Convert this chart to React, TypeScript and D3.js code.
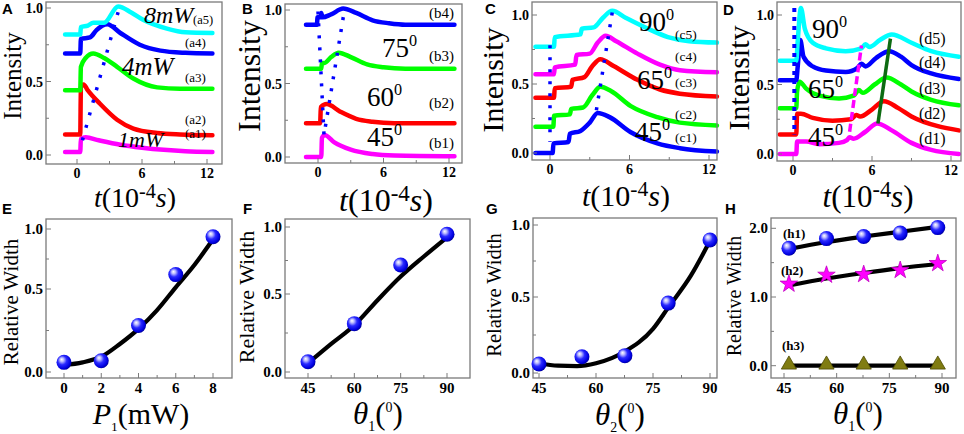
import * as d3 from "d3";
import type { ReactNode } from "react";

type Pt = [number, number];

const SERIF = "'Liberation Serif', 'Times New Roman', Tinos, 'DejaVu Serif', serif";
const SANS = "'Liberation Sans', Arial, sans-serif";
const FRAME = "#7a7a7a";

const CYAN = "#00ffff";
const BLUE = "#0000ff";
const GREEN = "#00ff00";
const RED = "#ff0000";
const MAGENTA = "#ff00ff";

// ---------- top row: intensity vs time ----------
const timeTicks = [0, 6, 12];
const timeMinor = [3, 9];
const intensityTicks = [0, 0.5, 1];
const intensityMinor = [0.25, 0.75];

// A: pump power 1..8 mW
const traceA1: Pt[] = [[-1.1, 0.02], [0.3, 0.02], [0.36, 0.11], [0.8, 0.12], [2, 0.1], [4, 0.07], [6, 0.05], [8, 0.035], [10, 0.025], [12.5, 0.02]];
const traceA2: Pt[] = [[-1.1, 0.14], [0.3, 0.14], [0.36, 0.46], [0.6, 0.48], [1, 0.44], [2.1, 0.35], [3.7, 0.24], [5.2, 0.18], [7.4, 0.15], [9.5, 0.14], [12.5, 0.135]];
const traceA3: Pt[] = [[-1.1, 0.44], [0.3, 0.44], [0.36, 0.6], [0.8, 0.66], [1.5, 0.69], [2.5, 0.66], [3.7, 0.6], [5.2, 0.52], [7.4, 0.46], [9.5, 0.45], [12.5, 0.45]];
const traceA4: Pt[] = [[-1.1, 0.69], [0.3, 0.69], [0.36, 0.79], [1.2, 0.8], [1.8, 0.85], [2.8, 0.89], [4, 0.83], [5.8, 0.75], [7.7, 0.71], [10, 0.695], [12.5, 0.69]];
const traceA5: Pt[] = [[-1.1, 0.82], [0.3, 0.82], [0.36, 0.87], [1, 0.88], [1.5, 0.9], [2.5, 0.9], [3.8, 1.01], [5, 0.97], [6.1, 0.92], [8.3, 0.86], [10, 0.835], [12.5, 0.83]];
const guideA: Pt[] = [[0.5, 0.1], [3.9, 1.0]];

// B: angle theta1
const traceB1: Pt[] = [[-1.1, 0], [0.3, 0], [0.36, 0.13], [0.6, 0.15], [1.5, 0.1], [3, 0.05], [5, 0.02], [7, 0.01], [12.5, 0.005]];
const traceB2: Pt[] = [[-1.1, 0.23], [0.2, 0.23], [0.26, 0.34], [0.8, 0.36], [2, 0.31], [3.5, 0.26], [5, 0.24], [7, 0.23], [12.5, 0.23]];
const traceB3: Pt[] = [[-1.1, 0.6], [0.3, 0.6], [0.36, 0.64], [0.6, 0.64], [1.2, 0.68], [1.9, 0.71], [3, 0.68], [4.5, 0.63], [6, 0.61], [8, 0.6], [12.5, 0.6]];
const traceB4: Pt[] = [[-1.1, 0.9], [-0.1, 0.9], [-0.04, 0.95], [0.25, 0.95], [0.3, 0.98], [0.4, 0.95], [1.2, 0.97], [2.3, 1.01], [3.5, 0.98], [5, 0.93], [6.5, 0.91], [8, 0.9], [12.5, 0.9]];
const guideB: Pt[] = [[0, 0.99], [0.55, 0.15], [2.4, 0.99]];

// C: angle theta2
const traceC1: Pt[] = [[-1.1, 0], [0.2, 0], [0.26, 0.07], [1.4, 0.08], [1.5, 0.14], [2.3, 0.16], [3, 0.22], [3.6, 0.29], [4.5, 0.26], [6.1, 0.15], [8.1, 0.07], [9.8, 0.035], [12.6, 0.01]];
const traceC2: Pt[] = [[-1.1, 0.19], [0.25, 0.19], [0.31, 0.27], [1.5, 0.28], [1.6, 0.32], [2.5, 0.33], [3.2, 0.42], [3.8, 0.48], [4.6, 0.45], [6.1, 0.34], [8.1, 0.26], [9.8, 0.22], [12.6, 0.2]];
const traceC3: Pt[] = [[-1.1, 0.4], [0.3, 0.4], [0.36, 0.47], [1.6, 0.48], [1.7, 0.53], [2.6, 0.55], [3.2, 0.63], [3.8, 0.68], [4.8, 0.63], [6.6, 0.53], [8.3, 0.46], [9.8, 0.43], [12.6, 0.41]];
const traceC4: Pt[] = [[-1.1, 0.57], [0.3, 0.57], [0.36, 0.62], [1.9, 0.64], [2, 0.71], [3, 0.72], [3.6, 0.8], [4.2, 0.85], [5, 0.81], [6.6, 0.72], [8.3, 0.64], [9.8, 0.6], [12.6, 0.585]];
const traceC5: Pt[] = [[-1.1, 0.77], [0.3, 0.77], [0.36, 0.84], [2.3, 0.86], [2.4, 0.9], [3.3, 0.91], [4, 0.98], [4.7, 1.03], [5.7, 0.98], [7.4, 0.9], [8.9, 0.84], [10.5, 0.81], [12.6, 0.8]];
const guideC1: Pt[] = [[0, 0.78], [0, 0.08]];
const guideC2: Pt[] = [[3.5, 0.31], [4.7, 1.02]];

// D: angle with two-stage response
const traceD1: Pt[] = [[-1, 0], [0.25, 0], [0.31, 0.09], [1, 0.09], [2, 0.07], [3.5, 0.08], [4.1, 0.1], [4.3, 0.12], [4.6, 0.11], [5.5, 0.16], [6.4, 0.22], [7.5, 0.17], [9, 0.08], [10.5, 0.03], [12.6, 0]];
const traceD2: Pt[] = [[-1, 0.14], [0.25, 0.14], [0.31, 0.29], [0.6, 0.29], [1.5, 0.26], [3, 0.24], [4.4, 0.25], [4.8, 0.28], [5.1, 0.27], [6, 0.32], [6.9, 0.38], [8, 0.33], [9, 0.27], [11, 0.2], [12.6, 0.17]];
const traceD3: Pt[] = [[-1, 0.33], [0.25, 0.33], [0.31, 0.45], [0.5, 0.52], [1, 0.47], [2, 0.42], [3.5, 0.4], [4.6, 0.42], [5, 0.46], [5.3, 0.44], [6.2, 0.5], [7.1, 0.55], [8.2, 0.5], [9, 0.45], [10.5, 0.39], [12.6, 0.35]];
const traceD4: Pt[] = [[-1, 0.53], [0.25, 0.53], [0.35, 0.62], [0.55, 0.82], [0.8, 0.7], [1.5, 0.63], [2.5, 0.6], [4, 0.59], [4.9, 0.62], [5.2, 0.65], [5.5, 0.63], [6.3, 0.69], [7.3, 0.74], [8.2, 0.7], [9, 0.64], [10.5, 0.58], [12.6, 0.54]];
const traceD5: Pt[] = [[-1, 0.67], [0.25, 0.67], [0.35, 0.8], [0.6, 1.05], [0.9, 0.9], [1.5, 0.8], [2.5, 0.76], [4, 0.74], [5.2, 0.76], [5.5, 0.79], [5.8, 0.77], [6.6, 0.82], [7.5, 0.86], [9, 0.8], [10.5, 0.74], [12.6, 0.7]];
const guideD1: Pt[] = [[0.1, 1.05], [0.1, 0.14]];
const guideD2: Pt[] = [[4.3, 0.16], [5.2, 0.78]];
const guideD3: Pt[] = [[6.45, 0.22], [7.4, 0.83]];

// ---------- bottom row: relative width ----------
const powerLevels = [0, 2, 4, 6, 8];
const widthPower = [0.058, 0.068, 0.28, 0.62, 0.936];
const powerFitX = [0, 1, 2, 3, 4, 5, 6, 7, 8];
const widthPowerFit = [0.042, 0.058, 0.092, 0.169, 0.26, 0.373, 0.514, 0.7, 0.914];

const theta1Levels = [45, 60, 75, 90];
const widthTheta1 = [0.066, 0.31, 0.716, 0.946];
const theta1FitX = [45, 52.5, 60, 67.5, 75, 82.5, 90];
const widthTheta1Fit = [0.056, 0.18, 0.3, 0.46, 0.63, 0.78, 0.923];

const theta2Levels = [45, 56.3, 67.6, 79, 90];
const widthTheta2 = [0.059, 0.107, 0.114, 0.46, 0.896];
const theta2FitX = [45, 50, 55, 60, 67.5, 75, 79, 85, 90];
const widthTheta2Fit = [0.064, 0.048, 0.045, 0.064, 0.14, 0.29, 0.43, 0.65, 0.89];

const thetaHLevels = [46.4, 57.1, 67.7, 78.1, 88.8];
const widthH1 = [1.71, 1.85, 1.88, 1.93, 2.01];
const widthH2 = [1.19, 1.32, 1.33, 1.39, 1.49];
const widthH3 = [0, 0, 0, 0, 0];
const widthH1Fit = [1.7, 1.8, 1.88, 1.95, 2.02];
const widthH2Fit = [1.17, 1.27, 1.35, 1.42, 1.48];
const widthH3Fit = [0, 0, 0, 0, 0];

const unitTicks = [0, 0.5, 1];
const angleTicks = [45, 60, 75, 90];
const angleMinor = [52.5, 67.5, 82.5];

type Note = { text: string; x: number; y: number; size: number; italic?: boolean; sup?: string };

type TraceCfg = {
  letter: string;
  letterPos: Pt;
  box: [number, number, number, number];
  xr: Pt;
  yr: Pt;
  traces: { pts: Pt[]; color: string }[];
  guides: { pts: Pt[]; color: string; width: number; dash?: string }[];
  notes: Note[];
  yTitle: [number, number, number];
  xTitle: [number, number, number];
};

const lbl = (text: string, x: number, y: number, size: number): Note => ({ text, x, y, size });
const deg = (text: string, x: number, y: number, size = 27): Note => ({ text, x, y, size, sup: "0" });

const topPanels: TraceCfg[] = [
  {
    letter: "A", letterPos: [2, 14], box: [46, 2, 222, 164], xr: [77, 207], yr: [155, 8],
    traces: [
      { pts: traceA1, color: MAGENTA }, { pts: traceA2, color: RED }, { pts: traceA3, color: GREEN },
      { pts: traceA4, color: BLUE }, { pts: traceA5, color: CYAN },
    ],
    guides: [{ pts: guideA, color: BLUE, width: 3.5, dash: "3 10" }],
    notes: [
      { text: "8mW", x: 144, y: 23, size: 24, italic: true }, lbl("(a5)", 193, 24, 12.5),
      lbl("(a4)", 185, 47, 13),
      { text: "4mW", x: 122, y: 75, size: 25, italic: true }, lbl("(a3)", 185, 82, 13),
      lbl("(a2)", 185, 124, 13),
      { text: "1mW", x: 118, y: 147, size: 22, italic: true }, lbl("(a1)", 185, 138, 13),
    ],
    yTitle: [21, 76, 25], xTitle: [135, 207, 28],
  },
  {
    letter: "B", letterPos: [242, 14], box: [285, 4, 462, 163], xr: [318, 449], yr: [157, 10],
    traces: [
      { pts: traceB1, color: MAGENTA }, { pts: traceB2, color: RED },
      { pts: traceB3, color: GREEN }, { pts: traceB4, color: BLUE },
    ],
    guides: [{ pts: guideB, color: BLUE, width: 3.5, dash: "3 9" }],
    notes: [
      lbl("(b4)", 429, 18, 15), deg("75", 382, 57), lbl("(b3)", 429, 61, 15),
      deg("60", 367, 106), lbl("(b2)", 429, 108, 15), deg("45", 367, 146), lbl("(b1)", 429, 148, 15),
    ],
    yTitle: [260, 76, 32], xTitle: [386, 211, 32],
  },
  {
    letter: "C", letterPos: [485, 14], box: [532, 2, 717, 160], xr: [550, 709], yr: [153, 15],
    traces: [
      { pts: traceC1, color: BLUE }, { pts: traceC2, color: GREEN }, { pts: traceC3, color: RED },
      { pts: traceC4, color: MAGENTA }, { pts: traceC5, color: CYAN },
    ],
    guides: [
      { pts: guideC1, color: BLUE, width: 3.5, dash: "3 9" },
      { pts: guideC2, color: BLUE, width: 3.5, dash: "3 9" },
    ],
    notes: [
      deg("90", 639, 31), lbl("(c5)", 675, 39, 13.5), lbl("(c4)", 675, 61, 13.5),
      deg("65", 637, 89), lbl("(c3)", 675, 87, 13.5), lbl("(c2)", 675, 119, 13.5),
      deg("45", 635, 141), lbl("(c1)", 675, 142, 13.5),
    ],
    yTitle: [503, 80, 30], xTitle: [626, 206, 30],
  },
  {
    letter: "D", letterPos: [723, 15], box: [777, 2, 961, 161], xr: [793, 951], yr: [154, 15],
    traces: [
      { pts: traceD1, color: MAGENTA }, { pts: traceD2, color: RED }, { pts: traceD3, color: GREEN },
      { pts: traceD4, color: BLUE }, { pts: traceD5, color: CYAN },
    ],
    guides: [
      { pts: guideD1, color: BLUE, width: 4, dash: "4 5" },
      { pts: guideD2, color: MAGENTA, width: 3.5, dash: "8 4" },
      { pts: guideD3, color: "#0d6b12", width: 3.5 },
    ],
    notes: [
      deg("90", 812, 38), lbl("(d5)", 919, 44, 16), lbl("(d4)", 919, 68, 16),
      deg("65", 808, 98), lbl("(d3)", 919, 94, 16), lbl("(d2)", 919, 119, 16),
      deg("45", 808, 146), lbl("(d1)", 919, 144, 16),
    ],
    yTitle: [749, 78, 30], xTitle: [868, 207, 31],
  },
];

function Frame({ box }: { box: [number, number, number, number] }) {
  const [x0, y0, x1, y1] = box;
  return <rect x={x0} y={y0} width={x1 - x0} height={y1 - y0} fill="none" stroke={FRAME} strokeWidth={1.3} />;
}

function Letter({ text, pos }: { text: string; pos: Pt }) {
  return (
    <text x={pos[0]} y={pos[1]} fontFamily={SANS} fontWeight="bold" fontSize={15} fill="#000">{text}</text>
  );
}

function TracePanel({ p }: { p: TraceCfg }) {
  const x = d3.scaleLinear().domain([0, 12]).range(p.xr);
  const y = d3.scaleLinear().domain([0, 1]).range(p.yr);
  const smooth = d3.line<Pt>().x((d) => x(d[0])).y((d) => y(d[1])).curve(d3.curveMonotoneX);
  const straight = d3.line<Pt>().x((d) => x(d[0])).y((d) => y(d[1]));
  const [bx0, , , by1] = p.box;
  const fs = p.xTitle[2];
  return (
    <g>
      <Letter text={p.letter} pos={p.letterPos} />
      {p.traces.map((t, i) => (
        <path key={i} d={smooth(t.pts) ?? ""} fill="none" stroke={t.color} strokeWidth={4.5}
          strokeLinejoin="round" strokeLinecap="round" />
      ))}
      {p.guides.map((g, i) => (
        <path key={i} d={straight(g.pts) ?? ""} fill="none" stroke={g.color} strokeWidth={g.width}
          strokeDasharray={g.dash} />
      ))}
      <Frame box={p.box} />
      {timeTicks.concat(timeMinor).map((v) => (
        <line key={"x" + v} x1={x(v)} x2={x(v)} y1={by1} y2={by1 - (timeTicks.includes(v) ? 5 : 3)} stroke={FRAME} />
      ))}
      {intensityTicks.concat(intensityMinor).map((v) => (
        <line key={"y" + v} x1={bx0} x2={bx0 + (intensityTicks.includes(v) ? 5 : 3)} y1={y(v)} y2={y(v)} stroke={FRAME} />
      ))}
      {timeTicks.map((v) => (
        <text key={"xl" + v} x={x(v)} y={by1 + 14} textAnchor="middle" fontWeight="bold" fontSize={14}>{v}</text>
      ))}
      {intensityTicks.map((v) => (
        <text key={"yl" + v} x={bx0 - 3} y={y(v) + 5} textAnchor="end" fontWeight="bold" fontSize={14}>{v.toFixed(1)}</text>
      ))}
      {p.notes.map((n, i) => (
        <text key={i} x={n.x} y={n.y} fontSize={n.size} fontStyle={n.italic ? "italic" : "normal"}>
          {n.text}
          {n.sup && <tspan dy={-n.size * 0.42} fontSize={n.size * 0.6}>{n.sup}</tspan>}
        </text>
      ))}
      <text transform={`translate(${p.yTitle[0]},${p.yTitle[1]}) rotate(-90)`} textAnchor="middle"
        fontSize={p.yTitle[2]}>Intensity</text>
      <text x={p.xTitle[0]} y={p.xTitle[1]} textAnchor="middle" fontSize={fs}>
        <tspan fontStyle="italic">t</tspan>(10
        <tspan dy={-fs * 0.32} fontSize={fs * 0.72}>-4</tspan>
        <tspan dy={fs * 0.32} fontStyle="italic">s</tspan>)
      </text>
    </g>
  );
}

type Marker = "ball" | "star" | "tri";
type FitSeries = { xs: number[]; ys: number[]; fitX: number[]; fitY: number[]; marker: Marker };

type FitCfg = {
  letter: string;
  letterPos: Pt;
  box: [number, number, number, number];
  x: d3.ScaleLinear<number, number>;
  y: d3.ScaleLinear<number, number>;
  xTicks: number[];
  xMinor: number[];
  yTicks: number[];
  yMinor: number[];
  series: FitSeries[];
  notes: Note[];
  yTitle: [number, number, number];
  xTitle: [number, number, number];
  xLabel: (size: number) => ReactNode;
};

const thetaLabel = (sub: string) => (size: number) => (
  <>
    <tspan fontStyle="italic">θ</tspan>
    <tspan dy={size * 0.22} fontSize={size * 0.45}>{sub}</tspan>
    <tspan dy={-size * 0.22}>(</tspan>
    <tspan dy={-size * 0.38} fontSize={size * 0.45}>0</tspan>
    <tspan dy={size * 0.38}>)</tspan>
  </>
);

const bottomPanels: FitCfg[] = [
  {
    letter: "E", letterPos: [2, 214], box: [46, 219, 232, 378],
    x: d3.scaleLinear().domain([0, 8]).range([64, 213]),
    y: d3.scaleLinear().domain([0, 0.5, 1]).range([372, 289, 229]),
    xTicks: [0, 2, 4, 6, 8], xMinor: [1, 3, 5, 7], yTicks: unitTicks, yMinor: [0.25, 0.75],
    series: [{ xs: powerLevels, ys: widthPower, fitX: powerFitX, fitY: widthPowerFit, marker: "ball" }],
    notes: [], yTitle: [18, 302, 21], xTitle: [141, 424, 30],
    xLabel: (size) => (
      <>
        <tspan fontStyle="italic">P</tspan>
        <tspan dy={size * 0.22} fontSize={size * 0.45}>1</tspan>
        <tspan dy={-size * 0.22}>(mW)</tspan>
      </>
    ),
  },
  {
    letter: "F", letterPos: [243, 214], box: [285, 219, 470, 378],
    x: d3.scaleLinear().domain([45, 90]).range([308, 447]),
    y: d3.scaleLinear().domain([0, 0.5, 1]).range([372, 294, 227]),
    xTicks: angleTicks, xMinor: angleMinor, yTicks: unitTicks, yMinor: [0.25, 0.75],
    series: [{ xs: theta1Levels, ys: widthTheta1, fitX: theta1FitX, fitY: widthTheta1Fit, marker: "ball" }],
    notes: [], yTitle: [254, 297, 22], xTitle: [378, 424, 31], xLabel: thetaLabel("1"),
  },
  {
    letter: "G", letterPos: [486, 214], box: [533, 218, 717, 378],
    x: d3.scaleLinear().domain([45, 90]).range([539, 710]),
    y: d3.scaleLinear().domain([0, 0.5, 1]).range([373, 297, 225]),
    xTicks: angleTicks, xMinor: angleMinor, yTicks: unitTicks, yMinor: [0.25, 0.75],
    series: [{ xs: theta2Levels, ys: widthTheta2, fitX: theta2FitX, fitY: widthTheta2Fit, marker: "ball" }],
    notes: [], yTitle: [501, 295, 20.5], xTitle: [620, 425, 31], xLabel: thetaLabel("2"),
  },
  {
    letter: "H", letterPos: [725, 214], box: [771, 218, 956, 378],
    x: d3.scaleLinear().domain([45, 90]).range([784, 942]),
    y: d3.scaleLinear().domain([0, 2]).range([365.7, 228.3]),
    xTicks: angleTicks, xMinor: angleMinor, yTicks: [0, 1, 2], yMinor: [0.5, 1.5],
    series: [
      { xs: thetaHLevels, ys: widthH1, fitX: thetaHLevels, fitY: widthH1Fit, marker: "ball" },
      { xs: thetaHLevels, ys: widthH2, fitX: thetaHLevels, fitY: widthH2Fit, marker: "star" },
      { xs: thetaHLevels, ys: widthH3, fitX: thetaHLevels, fitY: widthH3Fit, marker: "tri" },
    ],
    notes: [lbl("(h1)", 783, 238, 13), lbl("(h2)", 781, 275, 13), lbl("(h3)", 782, 350, 13)],
    yTitle: [741, 296, 20], xTitle: [858, 424, 31], xLabel: thetaLabel("1"),
  },
];

const starPath = d3.symbol(d3.symbolStar, 95)() ?? "";
const triPath = d3.symbol(d3.symbolTriangle, 100)() ?? "";

function MarkerShape({ kind, cx, cy }: { kind: Marker; cx: number; cy: number }) {
  if (kind === "ball") return <circle cx={cx} cy={cy} r={7.5} fill="url(#ball)" />;
  if (kind === "star")
    return <path d={starPath} transform={`translate(${cx},${cy})`} fill={MAGENTA} stroke="#c000c0" strokeWidth={0.8} />;
  return <path d={triPath} transform={`translate(${cx},${cy - 1})`} fill="#807c12" stroke="#4d4a00" strokeWidth={0.8} />;
}

function FitPanel({ p }: { p: FitCfg }) {
  const { x, y } = p;
  const [bx0, , , by1] = p.box;
  const line = d3.line<Pt>().x((d) => x(d[0])).y((d) => y(d[1])).curve(d3.curveMonotoneX);
  return (
    <g>
      <Letter text={p.letter} pos={p.letterPos} />
      <Frame box={p.box} />
      {p.xTicks.concat(p.xMinor).map((v) => (
        <line key={"x" + v} x1={x(v)} x2={x(v)} y1={by1} y2={by1 - (p.xTicks.includes(v) ? 5 : 3)} stroke={FRAME} />
      ))}
      {p.yTicks.concat(p.yMinor).map((v) => (
        <line key={"y" + v} x1={bx0} x2={bx0 + (p.yTicks.includes(v) ? 5 : 3)} y1={y(v)} y2={y(v)} stroke={FRAME} />
      ))}
      {p.xTicks.map((v) => (
        <text key={"xl" + v} x={x(v)} y={by1 + 15} textAnchor="middle" fontWeight="bold" fontSize={15}>{v}</text>
      ))}
      {p.yTicks.map((v) => (
        <text key={"yl" + v} x={bx0 - 3} y={y(v) + 5} textAnchor="end" fontWeight="bold" fontSize={15}>{v.toFixed(1)}</text>
      ))}
      {p.series.map((s, si) => {
        const pts: Pt[] = s.fitX.map((v, i) => [v, s.fitY[i]]);
        return (
          <g key={si}>
            <path d={line(pts) ?? ""} fill="none" stroke="#000" strokeWidth={4.2} strokeLinecap="round" />
            {s.xs.map((v, i) => (
              <MarkerShape key={i} kind={s.marker} cx={x(v)} cy={y(s.ys[i])} />
            ))}
          </g>
        );
      })}
      {p.notes.map((n, i) => (
        <text key={i} x={n.x} y={n.y} fontWeight="bold" fontSize={n.size}>{n.text}</text>
      ))}
      <text transform={`translate(${p.yTitle[0]},${p.yTitle[1]}) rotate(-90)`} textAnchor="middle"
        fontSize={p.yTitle[2]}>Relative Width</text>
      <text x={p.xTitle[0]} y={p.xTitle[1]} textAnchor="middle" fontSize={p.xTitle[2]}>
        {p.xLabel(p.xTitle[2])}
      </text>
    </g>
  );
}

export default function App() {
  return (
    <svg width={964} height={434} fontFamily={SERIF}
      style={{ position: "absolute", left: 0, top: 0, background: "#fff" }}>
      <defs>
        <radialGradient id="ball" cx="0.42" cy="0.42" r="0.6" fx="0.34" fy="0.3">
          <stop offset="0" stopColor="#ffffff" />
          <stop offset="0.22" stopColor="#b8b8ff" />
          <stop offset="0.5" stopColor="#2a2aff" />
          <stop offset="0.85" stopColor="#0000e0" />
          <stop offset="1" stopColor="#00009a" />
        </radialGradient>
      </defs>
      {topPanels.map((p) => <TracePanel key={p.letter} p={p} />)}
      {bottomPanels.map((p) => <FitPanel key={p.letter} p={p} />)}
    </svg>
  );
}
